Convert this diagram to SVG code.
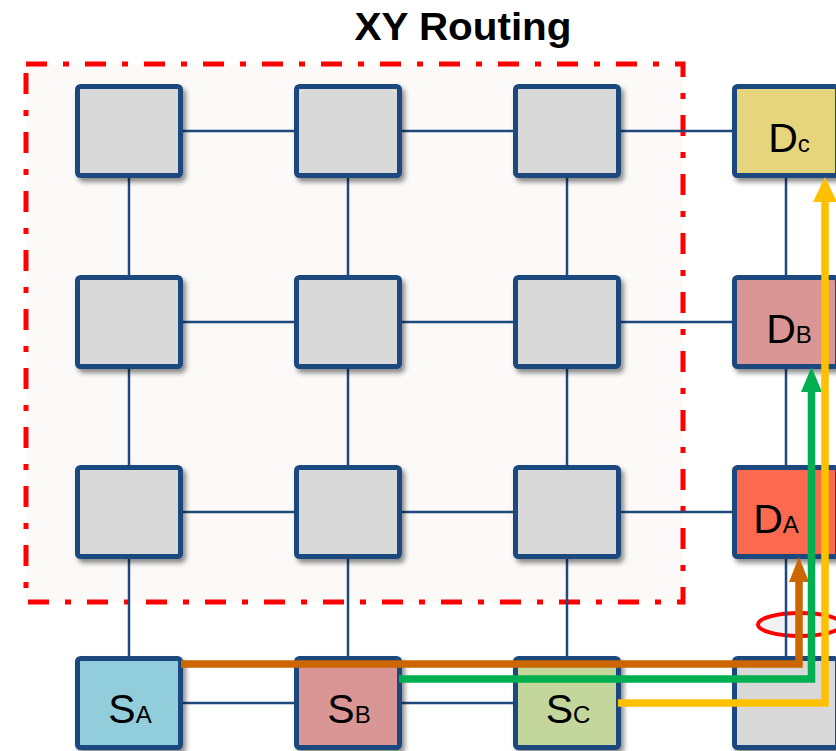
<svg xmlns="http://www.w3.org/2000/svg" width="836" height="751" viewBox="0 0 836 751">
  <defs>
    <filter id="shadow" x="-20%" y="-20%" width="150%" height="150%">
      <feDropShadow dx="3" dy="4" stdDeviation="2.5" flood-color="#000" flood-opacity="0.45"/>
    </filter>
  </defs>
  <style>
    .title { font-family: "Liberation Sans", Arial, sans-serif; font-weight: bold; font-size: 38px; fill: #000; }
    .node rect { stroke: #1f497d; stroke-width: 5; filter: url(#shadow); }
    .gray { fill: #d9d9d9; }
    .label { font-family: "Liberation Sans", Arial, sans-serif; font-size: 41px; fill: #000; text-anchor: middle; }
    .sub { font-size: 24px; }
    .link { stroke: #1f497d; stroke-width: 2.5; fill: none; }
    .route { fill: none; stroke-width: 7.5; stroke-linejoin: miter; stroke-linecap: butt; }
  </style>

  <rect width="836" height="751" fill="#ffffff"/>

  <text class="title" x="463" y="40" text-anchor="middle" textLength="217" lengthAdjust="spacingAndGlyphs">XY Routing</text>

  <!-- region boundary (dash-dot) -->
  <rect x="26" y="64" width="657" height="538" fill="#fbfaf9" stroke="#ff0000" stroke-width="5" stroke-dasharray="21 16 6 16"/>

  <!-- highlighted link -->
  <ellipse cx="800" cy="624.5" rx="42" ry="11.5" fill="#f2f2f2" stroke="#ff0000" stroke-width="4"/>

  <!-- mesh links -->
  <g id="connectors">
    <!-- horizontal -->
    <line class="link" x1="183" y1="131" x2="294" y2="131"/>
    <line class="link" x1="402" y1="131" x2="513" y2="131"/>
    <line class="link" x1="621" y1="131" x2="732" y2="131"/>
    <line class="link" x1="183" y1="322" x2="294" y2="322"/>
    <line class="link" x1="402" y1="322" x2="513" y2="322"/>
    <line class="link" x1="621" y1="322" x2="732" y2="322"/>
    <line class="link" x1="183" y1="512" x2="294" y2="512"/>
    <line class="link" x1="402" y1="512" x2="513" y2="512"/>
    <line class="link" x1="621" y1="512" x2="732" y2="512"/>
    <line class="link" x1="183" y1="703" x2="294" y2="703"/>
    <line class="link" x1="402" y1="703" x2="513" y2="703"/>
    <line class="link" x1="621" y1="703" x2="732" y2="703"/>
    <!-- vertical -->
    <line class="link" x1="129" y1="178" x2="129" y2="275"/>
    <line class="link" x1="129" y1="368" x2="129" y2="465"/>
    <line class="link" x1="129" y1="558" x2="129" y2="656"/>
    <line class="link" x1="348" y1="178" x2="348" y2="275"/>
    <line class="link" x1="348" y1="368" x2="348" y2="465"/>
    <line class="link" x1="348" y1="558" x2="348" y2="656"/>
    <line class="link" x1="567" y1="178" x2="567" y2="275"/>
    <line class="link" x1="567" y1="368" x2="567" y2="465"/>
    <line class="link" x1="567" y1="558" x2="567" y2="656"/>
    <line class="link" x1="786" y1="178" x2="786" y2="275"/>
    <line class="link" x1="786" y1="368" x2="786" y2="465"/>
    <line class="link" x1="786" y1="558" x2="786" y2="656"/>
  </g>

  <!-- routers -->
  <g id="n00" class="node"><rect class="gray" x="77.5" y="86.5" width="103" height="89" rx="3"/></g>
  <g id="n10" class="node"><rect class="gray" x="296.5" y="86.5" width="103" height="89" rx="3"/></g>
  <g id="n20" class="node"><rect class="gray" x="515.5" y="86.5" width="103" height="89" rx="3"/></g>
  <g id="DC" class="node"><rect x="734.5" y="86.5" width="103" height="89" rx="3" fill="#e6d57b"/>
    <text class="label" x="789" y="152">D<tspan class="sub">c</tspan></text></g>

  <g id="n01" class="node"><rect class="gray" x="77.5" y="277.5" width="103" height="89" rx="3"/></g>
  <g id="n11" class="node"><rect class="gray" x="296.5" y="277.5" width="103" height="89" rx="3"/></g>
  <g id="n21" class="node"><rect class="gray" x="515.5" y="277.5" width="103" height="89" rx="3"/></g>
  <g id="DB" class="node"><rect x="734.5" y="277.5" width="103" height="89" rx="3" fill="#d99694"/>
    <text class="label" x="789" y="343">D<tspan class="sub">B</tspan></text></g>

  <g id="n02" class="node"><rect class="gray" x="77.5" y="467.5" width="103" height="89" rx="3"/></g>
  <g id="n12" class="node"><rect class="gray" x="296.5" y="467.5" width="103" height="89" rx="3"/></g>
  <g id="n22" class="node"><rect class="gray" x="515.5" y="467.5" width="103" height="89" rx="3"/></g>
  <g id="DA" class="node"><rect x="734.5" y="467.5" width="103" height="89" rx="3" fill="#fb6b50"/>
    <text class="label" x="776" y="533">D<tspan class="sub">A</tspan></text></g>

  <g id="SA" class="node"><rect x="77.5" y="658.5" width="103" height="89" rx="3" fill="#92cddc"/>
    <text class="label" x="130" y="723">S<tspan class="sub">A</tspan></text></g>
  <g id="SB" class="node"><rect x="296.5" y="658.5" width="103" height="89" rx="3" fill="#d99694"/>
    <text class="label" x="349" y="723">S<tspan class="sub">B</tspan></text></g>
  <g id="SC" class="node"><rect x="515.5" y="658.5" width="103" height="89" rx="3" fill="#c3d69b"/>
    <text class="label" x="568" y="723">S<tspan class="sub">C</tspan></text></g>
  <g id="n33" class="node"><rect class="gray" x="734.5" y="658.5" width="103" height="89" rx="3"/></g>

  <!-- XY routes: X first, then Y -->
  <g id="routes">
    <polyline class="route" stroke="#cc6600" points="181,664 799,664 799,580"/>
    <polygon fill="#cc6600" points="799,557 809,582 789,582"/>
    <polyline class="route" stroke="#00b050" points="399,679 811.5,679 811.5,390"/>
    <polygon fill="#00b050" points="811.5,367 822,392 801,392"/>
    <polyline class="route" stroke="#ffc000" points="618,703 825,703 825,200"/>
    <polygon fill="#ffc000" points="825,177 837,202 813,202"/>
  </g>
</svg>
